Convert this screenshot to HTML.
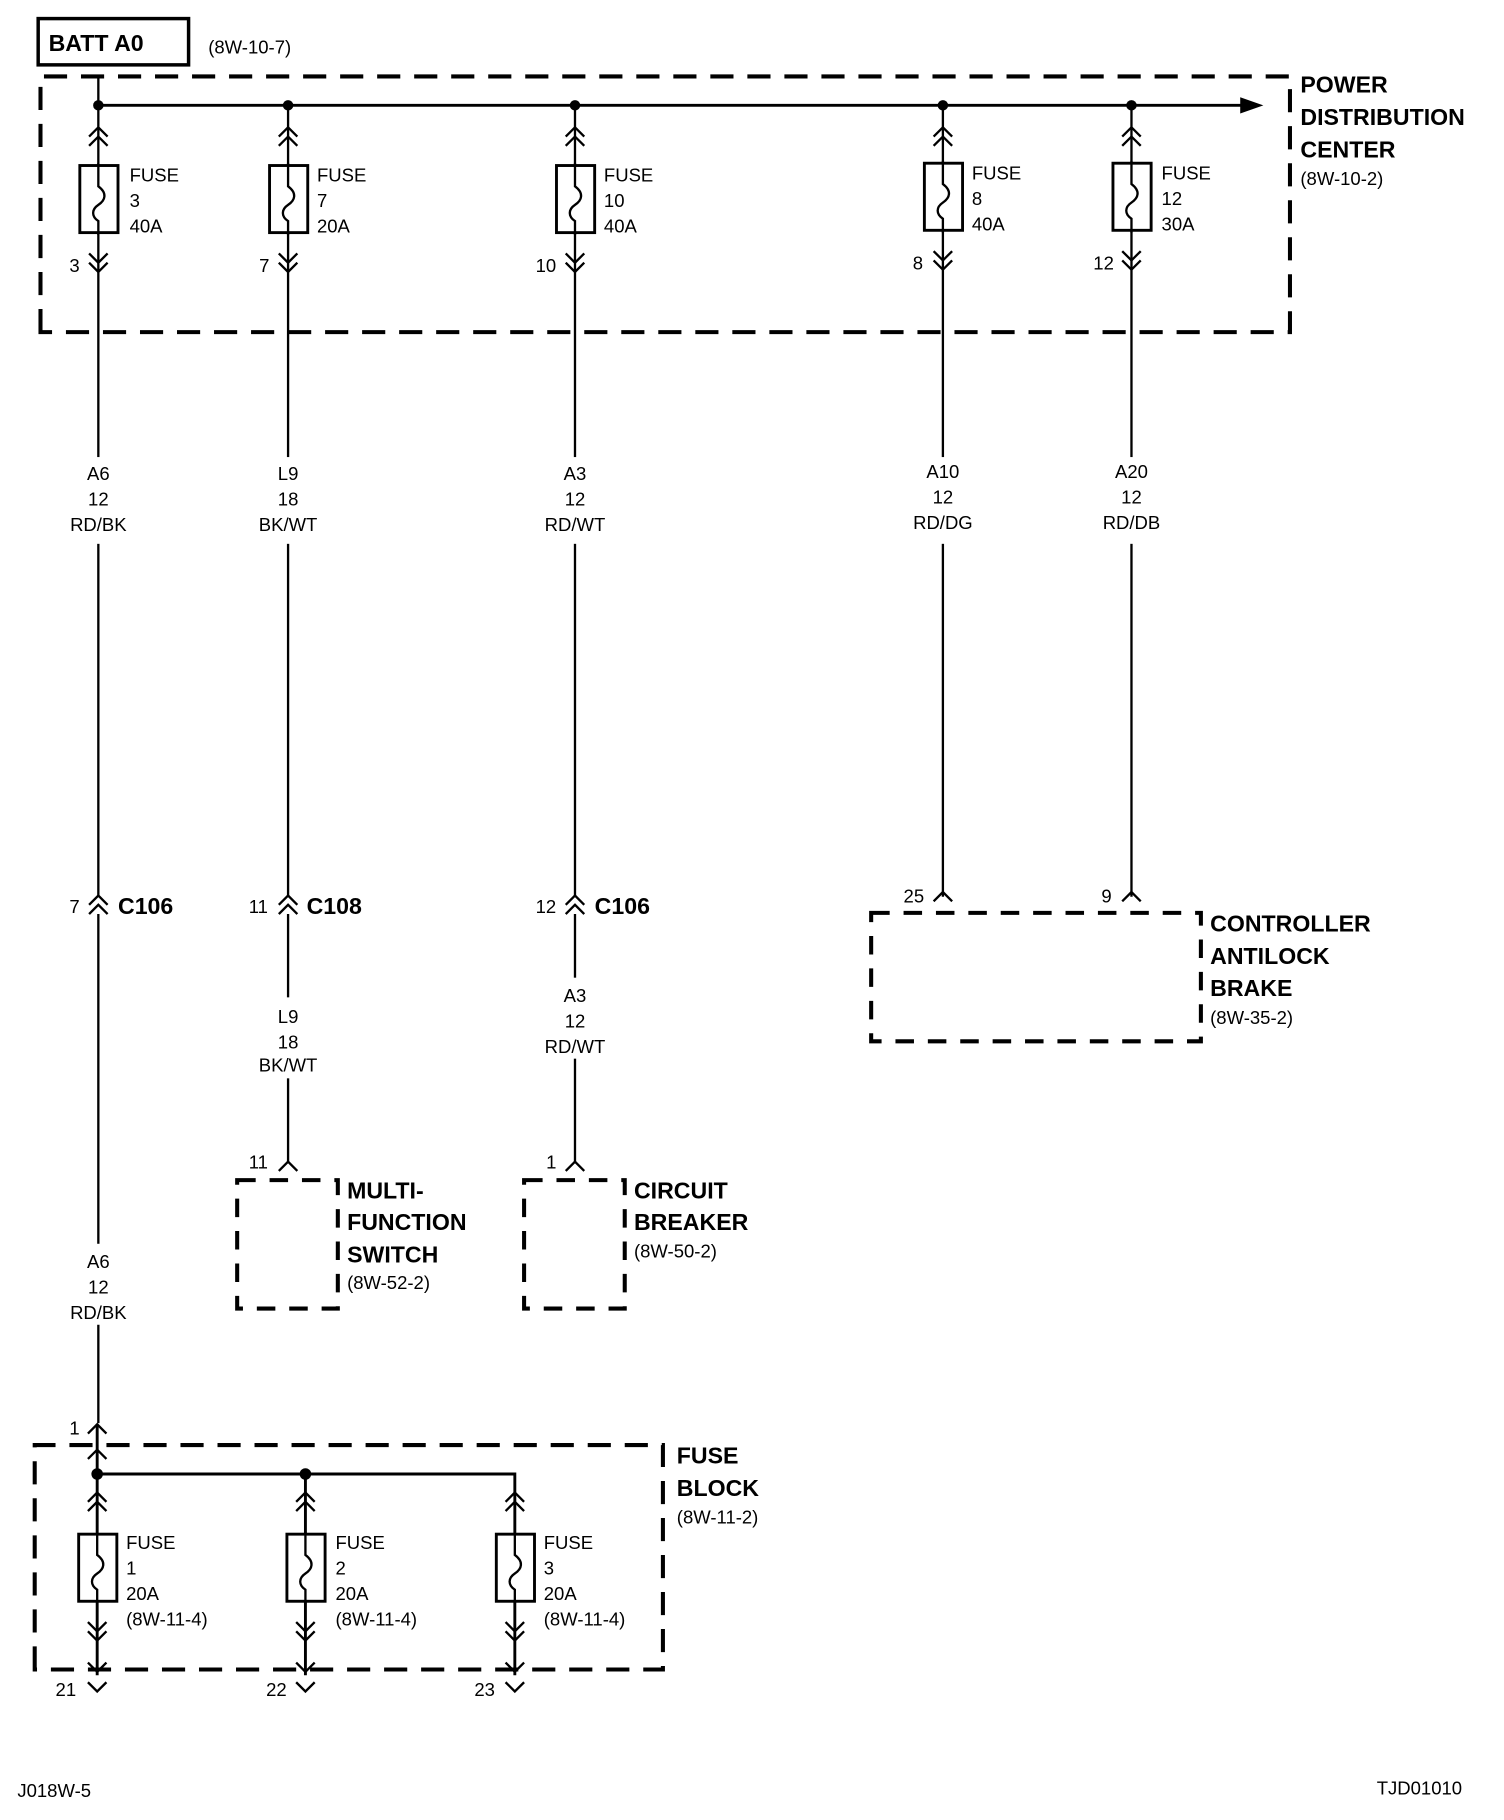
<!DOCTYPE html>
<html><head><meta charset="utf-8"><style>
html,body{margin:0;padding:0;background:#fff}
svg{display:block}
text{font-family:"Liberation Sans",sans-serif;fill:#000}
.t{font-size:16px}
.b{font-size:20px;font-weight:bold}
</style></head><body>
<svg width="1504" height="1820" viewBox="0 0 1300 1573" xmlns="http://www.w3.org/2000/svg">
<defs>
<g id="up"><path d="M-8 8 L0 0 L8 8" fill="none" stroke="#000" stroke-width="2"/></g>
<g id="dup"><path d="M-8 8 L0 0 L8 8 M-8 16 L0 8 L8 16" fill="none" stroke="#000" stroke-width="2"/></g>
<g id="ddn"><path d="M-8 -8 L0 0 L8 -8 M-8 -16 L0 -8 L8 -16" fill="none" stroke="#000" stroke-width="2"/></g>
<g id="dn"><path d="M-8 -8 L0 0 L8 -8" fill="none" stroke="#000" stroke-width="2"/></g>
<g id="fuse"><rect x="-16" y="0" width="33" height="58" fill="#fff" stroke="#000" stroke-width="2.5"/><path d="M0 -2 L0 18 C8 24 6 30 0 34 C-6 38 -6 44 0 48 L0 60" fill="none" stroke="#000" stroke-width="2"/></g>
</defs>
<g stroke="#000" fill="none">
<rect x="33" y="16" width="130" height="40" stroke-width="3"/>
<path d="M35 287 L35 66 L1115 66 L1115 287 Z" stroke-width="3.5" stroke-dasharray="20 12"/>
<path d="M85 91 L1080 91" stroke-width="2.5"/>
<path d="M85 66 L85 91" stroke-width="2"/>
</g>
<path d="M1072 84 L1092 91 L1072 98 Z"/>
<text x="42" y="44" class="b">BATT A0</text>
<text x="180" y="46" class="t">(8W-10-7)</text>
<text x="1124" y="80" class="b">POWER</text>
<text x="1124" y="108" class="b">DISTRIBUTION</text>
<text x="1124" y="136" class="b">CENTER</text>
<text x="1124" y="160" class="t">(8W-10-2)</text>

<!-- PDC branches -->
<g>
<g transform="translate(85,0)"><circle cx="0" cy="91" r="4.5"/><line x1="0" y1="91" x2="0" y2="775" stroke="#000" stroke-width="2"/><use href="#dup" y="110"/><use href="#fuse" y="143"/><use href="#ddn" y="235"/></g>
<g transform="translate(249,0)"><circle cx="0" cy="91" r="4.5"/><line x1="0" y1="91" x2="0" y2="775" stroke="#000" stroke-width="2"/><use href="#dup" y="110"/><use href="#fuse" y="143"/><use href="#ddn" y="235"/></g>
<g transform="translate(497,0)"><circle cx="0" cy="91" r="4.5"/><line x1="0" y1="91" x2="0" y2="775" stroke="#000" stroke-width="2"/><use href="#dup" y="110"/><use href="#fuse" y="143"/><use href="#ddn" y="235"/></g>
<g transform="translate(815,0)"><circle cx="0" cy="91" r="4.5"/><line x1="0" y1="91" x2="0" y2="775" stroke="#000" stroke-width="2"/><use href="#dup" y="110"/><use href="#fuse" y="141"/><use href="#ddn" y="233"/></g>
<g transform="translate(978,0)"><circle cx="0" cy="91" r="4.5"/><line x1="0" y1="91" x2="0" y2="775" stroke="#000" stroke-width="2"/><use href="#dup" y="110"/><use href="#fuse" y="141"/><use href="#ddn" y="233"/></g>
</g>
<rect x="60" y="395" width="50" height="75" fill="#fff"/>
<rect x="220" y="395" width="55" height="75" fill="#fff"/>
<rect x="470" y="395" width="55" height="75" fill="#fff"/>
<rect x="785" y="395" width="60" height="75" fill="#fff"/>
<rect x="950" y="395" width="60" height="75" fill="#fff"/>
<g class="t">
<text x="112" y="157" class="t">FUSE</text><text x="112" y="179" class="t">3</text><text x="112" y="201" class="t">40A</text>
<text x="274" y="157" class="t">FUSE</text><text x="274" y="179" class="t">7</text><text x="274" y="201" class="t">20A</text>
<text x="522" y="157" class="t">FUSE</text><text x="522" y="179" class="t">10</text><text x="522" y="201" class="t">40A</text>
<text x="840" y="155" class="t">FUSE</text><text x="840" y="177" class="t">8</text><text x="840" y="199" class="t">40A</text>
<text x="1004" y="155" class="t">FUSE</text><text x="1004" y="177" class="t">12</text><text x="1004" y="199" class="t">30A</text>
<text x="60" y="235" class="t">3</text><text x="224" y="235" class="t">7</text><text x="463" y="235" class="t">10</text><text x="789" y="233" class="t">8</text><text x="945" y="233" class="t">12</text>
</g>
<g class="t" text-anchor="middle">
<text x="85" y="415" class="t">A6</text><text x="85" y="437" class="t">12</text><text x="85" y="459" class="t">RD/BK</text>
<text x="249" y="415" class="t">L9</text><text x="249" y="437" class="t">18</text><text x="249" y="459" class="t">BK/WT</text>
<text x="497" y="415" class="t">A3</text><text x="497" y="437" class="t">12</text><text x="497" y="459" class="t">RD/WT</text>
<text x="815" y="413" class="t">A10</text><text x="815" y="435" class="t">12</text><text x="815" y="457" class="t">RD/DG</text>
<text x="978" y="413" class="t">A20</text><text x="978" y="435" class="t">12</text><text x="978" y="457" class="t">RD/DB</text>
</g>

<!-- C connectors -->
<use href="#dup" x="85" y="774"/><use href="#dup" x="249" y="774"/><use href="#dup" x="497" y="774"/>
<text x="60" y="789" class="t">7</text><text x="102" y="790" class="b">C106</text>
<text x="215" y="789" class="t">11</text><text x="265" y="790" class="b">C108</text>
<text x="463" y="789" class="t">12</text><text x="514" y="790" class="b">C106</text>

<g stroke="#000" stroke-width="2">
<line x1="85" y1="790" x2="85" y2="1230"/>
<line x1="249" y1="790" x2="249" y2="1004"/>
<line x1="497" y1="790" x2="497" y2="1004"/>
</g>
<rect x="220" y="862" width="55" height="70" fill="#fff"/>
<rect x="470" y="845" width="55" height="70" fill="#fff"/>
<rect x="58" y="1075" width="55" height="70" fill="#fff"/>
<g text-anchor="middle">
<text x="249" y="884" class="t">L9</text><text x="249" y="906" class="t">18</text><text x="249" y="926" class="t">BK/WT</text>
<text x="497" y="866" class="t">A3</text><text x="497" y="888" class="t">12</text><text x="497" y="910" class="t">RD/WT</text>
<text x="85" y="1096" class="t">A6</text><text x="85" y="1118" class="t">12</text><text x="85" y="1140" class="t">RD/BK</text>
</g>

<!-- Multi-function / CB -->
<use href="#up" x="249" y="1004"/><text x="215" y="1010" class="t">11</text>
<use href="#up" x="497" y="1004"/><text x="472" y="1010" class="t">1</text>
<g fill="none" stroke="#000" stroke-width="3.5" stroke-dasharray="16 12">
<rect x="205" y="1020" width="87" height="111"/>
<rect x="453" y="1020" width="87" height="111"/>
<rect x="753" y="789" width="285" height="111"/>
</g>
<text x="300" y="1036" class="b">MULTI-</text><text x="300" y="1063" class="b">FUNCTION</text><text x="300" y="1091" class="b">SWITCH</text><text x="300" y="1114" class="t">(8W-52-2)</text>
<text x="548" y="1036" class="b">CIRCUIT</text><text x="548" y="1063" class="b">BREAKER</text><text x="548" y="1087" class="t">(8W-50-2)</text>

<!-- Controller -->
<use href="#up" x="815" y="771"/><text x="781" y="780" class="t">25</text>
<use href="#up" x="978" y="771"/><text x="952" y="780" class="t">9</text>
<text x="1046" y="805" class="b">CONTROLLER</text><text x="1046" y="833" class="b">ANTILOCK</text><text x="1046" y="861" class="b">BRAKE</text><text x="1046" y="885" class="t">(8W-35-2)</text>

<!-- Fuse block -->
<use href="#up" x="84" y="1231"/><text x="60" y="1240" class="t">1</text>
<path d="M30 1443 L30 1249 L573 1249 L573 1443 Z" fill="none" stroke="#000" stroke-width="3.5" stroke-dasharray="20 12"/>
<use href="#up" x="84" y="1253"/>
<path d="M84 1231 L84 1448 M84 1274 L445 1274 L445 1448 M264 1274 L264 1448" fill="none" stroke="#000" stroke-width="2.5"/>
<circle cx="84" cy="1274" r="5"/><circle cx="264" cy="1274" r="5"/>
<g transform="translate(84,0)"><use href="#dup" y="1290"/><use href="#fuse" y="1326"/><use href="#ddn" y="1418"/><use href="#dn" y="1445"/><use href="#dn" y="1462"/></g>
<g transform="translate(264,0)"><use href="#dup" y="1290"/><use href="#fuse" y="1326"/><use href="#ddn" y="1418"/><use href="#dn" y="1445"/><use href="#dn" y="1462"/></g>
<g transform="translate(445,0)"><use href="#dup" y="1290"/><use href="#fuse" y="1326"/><use href="#ddn" y="1418"/><use href="#dn" y="1445"/><use href="#dn" y="1462"/></g>
<text x="109" y="1339" class="t">FUSE</text><text x="109" y="1361" class="t">1</text><text x="109" y="1383" class="t">20A</text><text x="109" y="1405" class="t">(8W-11-4)</text>
<text x="290" y="1339" class="t">FUSE</text><text x="290" y="1361" class="t">2</text><text x="290" y="1383" class="t">20A</text><text x="290" y="1405" class="t">(8W-11-4)</text>
<text x="470" y="1339" class="t">FUSE</text><text x="470" y="1361" class="t">3</text><text x="470" y="1383" class="t">20A</text><text x="470" y="1405" class="t">(8W-11-4)</text>
<text x="585" y="1265" class="b">FUSE</text><text x="585" y="1293" class="b">BLOCK</text><text x="585" y="1317" class="t">(8W-11-2)</text>
<text x="48" y="1466" class="t">21</text><text x="230" y="1466" class="t">22</text><text x="410" y="1466" class="t">23</text>

<text x="15" y="1553" class="t">J018W-5</text>
<text x="1190" y="1551" class="t">TJD01010</text>
</svg>
</body></html>
